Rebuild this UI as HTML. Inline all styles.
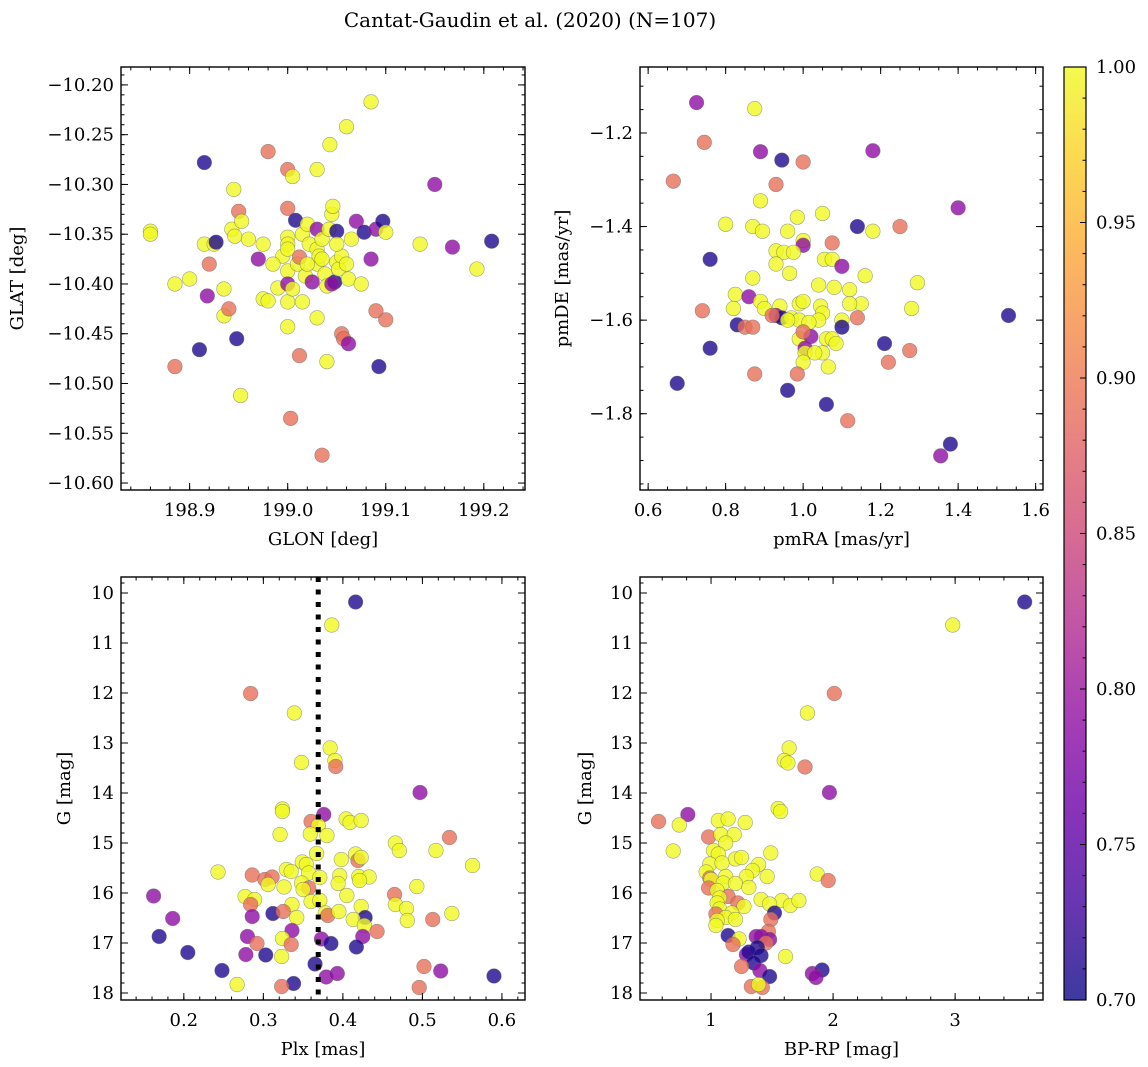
<!DOCTYPE html>
<html><head><meta charset="utf-8">
<style>
html,body{margin:0;padding:0;background:#fff;}
svg{display:block;font-family:"DejaVu Serif","Liberation Serif",serif;}
</style></head>
<body>
<svg id="fig" width="1148" height="1067" viewBox="0 0 1148 1067" xmlns="http://www.w3.org/2000/svg">
<defs>
<linearGradient id="plasma" x1="0" y1="1" x2="0" y2="0">
<stop offset="0" stop-color="#0d0887"/><stop offset="0.1" stop-color="#41049d"/><stop offset="0.2" stop-color="#6a00a8"/><stop offset="0.3" stop-color="#8f0da4"/><stop offset="0.4" stop-color="#b12a90"/><stop offset="0.5" stop-color="#cc4778"/><stop offset="0.6" stop-color="#e16462"/><stop offset="0.7" stop-color="#f2844b"/><stop offset="0.8" stop-color="#fca636"/><stop offset="0.9" stop-color="#fcce25"/><stop offset="1" stop-color="#f0f921"/>
</linearGradient>
</defs>
<text x="530" y="27" font-size="20" text-anchor="middle">Cantat-Gaudin et al. (2020) (N=107)</text>
</svg>
<script>
// ---- Panel 1: GLON vs GLAT ----
const p1GLON=[198.86,198.86,198.885,198.885,198.90,198.915,198.91,198.915,198.92,198.918,198.925,198.927,198.935,198.935,198.94,198.943,198.945,198.946,198.948,198.95,198.952,198.953,198.96,198.975,198.975,198.98,198.98,198.97,198.99,198.995,199.0,199.0,199.0,199.0,199.0,199.0,199.0,199.0,199.0,199.003,199.005,199.005,199.008,199.01,199.012,199.015,199.012,199.015,199.018,199.02,199.022,199.025,199.03,199.03,199.03,199.03,199.03,199.032,199.035,199.035,199.035,199.038,199.04,199.042,199.043,199.04,199.045,199.046,199.048,199.05,199.05,199.052,199.055,199.055,199.057,199.06,199.062,199.062,199.065,199.07,199.075,199.078,199.085,199.085,199.09,199.09,199.093,199.097,199.1,199.1,199.135,199.15,199.168,199.193,199.208,199.05,199.02,198.985,199.045,199.06];
const p1GLAT=[-10.347,-10.350,-10.400,-10.483,-10.395,-10.36,-10.466,-10.278,-10.38,-10.412,-10.36,-10.358,-10.432,-10.405,-10.425,-10.345,-10.305,-10.352,-10.455,-10.327,-10.512,-10.337,-10.355,-10.36,-10.415,-10.267,-10.417,-10.375,-10.404,-10.372,-10.285,-10.324,-10.353,-10.36,-10.365,-10.387,-10.418,-10.443,-10.40,-10.535,-10.292,-10.405,-10.336,-10.38,-10.373,-10.418,-10.472,-10.35,-10.392,-10.34,-10.36,-10.398,-10.285,-10.345,-10.365,-10.38,-10.434,-10.372,-10.375,-10.355,-10.572,-10.39,-10.402,-10.345,-10.26,-10.478,-10.33,-10.322,-10.398,-10.347,-10.378,-10.385,-10.372,-10.45,-10.455,-10.242,-10.395,-10.46,-10.355,-10.337,-10.4,-10.348,-10.217,-10.375,-10.345,-10.427,-10.483,-10.337,-10.348,-10.436,-10.36,-10.3,-10.363,-10.385,-10.357,-10.36,-10.38,-10.38,-10.4,-10.38];
const p1Prob=[1,1,1,.89,1,1,.71,.71,.89,.79,1,.71,1,1,.89,1,1,1,.71,.89,1,1,1,1,1,.89,1,.79,1,1,.89,.89,1,1,1,1,1,1,.79,.89,1,1,.71,1,.89,1,.89,1,1,1,1,.79,1,.79,1,1,1,1,1,1,.89,1,1,1,1,1,1,1,.71,.71,1,1,1,.89,.89,1,1,.79,1,.79,1,.71,1,.79,.79,.89,.71,.71,1,.89,1,.79,.79,1,.71,1,1,1,.79,1];
const p1XTicks=[198.9,199.0,199.1,199.2];
const p1YTicks=[-10.20,-10.25,-10.30,-10.35,-10.40,-10.45,-10.50,-10.55,-10.60];

// ---- Panel 2: pmRA vs pmDE ----
const p2PmRA=[0.725,0.875,0.745,0.89,0.945,1.0,1.18,0.665,0.93,0.89,1.05,0.985,0.80,0.87,0.895,1.18,1.14,1.25,1.40,1.0,1.0,1.075,0.93,0.95,0.975,1.055,1.075,0.93,1.1,0.965,1.16,0.87,1.04,1.08,1.295,1.12,0.825,0.86,0.89,0.94,1.15,0.9,1.045,0.82,0.99,1.0,1.12,1.28,0.93,0.945,0.97,0.92,1.05,0.99,1.04,1.10,1.14,0.96,1.015,0.83,0.85,0.87,1.1,0.99,1.02,1.06,1.075,1.085,1.0,1.21,1.005,1.275,1.005,1.05,1.03,1.0,1.22,1.065,0.875,0.985,0.96,1.06,1.115,1.38,1.355,1.53,0.74,0.76,0.76,0.675,0.96];
const p2PmDE=[-1.135,-1.148,-1.22,-1.24,-1.258,-1.262,-1.238,-1.303,-1.31,-1.345,-1.372,-1.38,-1.395,-1.40,-1.41,-1.41,-1.40,-1.40,-1.36,-1.43,-1.44,-1.435,-1.452,-1.455,-1.455,-1.47,-1.47,-1.48,-1.485,-1.50,-1.505,-1.51,-1.525,-1.53,-1.52,-1.535,-1.545,-1.55,-1.56,-1.57,-1.565,-1.575,-1.57,-1.575,-1.565,-1.56,-1.565,-1.575,-1.59,-1.595,-1.595,-1.59,-1.585,-1.6,-1.6,-1.6,-1.595,-1.60,-1.605,-1.61,-1.615,-1.615,-1.615,-1.64,-1.635,-1.64,-1.64,-1.65,-1.625,-1.65,-1.66,-1.665,-1.67,-1.67,-1.67,-1.69,-1.69,-1.70,-1.715,-1.715,-1.75,-1.78,-1.815,-1.865,-1.89,-1.59,-1.58,-1.47,-1.66,-1.735,-1.41];
const p2Prob=[.79,1,.89,.79,.71,.89,.79,.89,.89,1,1,1,1,1,1,1,.71,.89,.79,1,.79,.89,1,1,1,1,1,1,.79,1,1,1,1,1,1,1,1,.79,1,1,1,1,1,1,1,1,1,1,.79,.71,1,.89,1,1,1,1,.89,1,1,.71,.89,.89,.71,1,.79,1,1,1,.89,.71,.79,.89,1,1,1,1,.89,1,.89,.89,.71,.71,.89,.71,.79,.71,.89,.71,.71,.71,1];
const p2XTicks=[0.6,0.8,1.0,1.2,1.4,1.6];
const p2YTicks=[-1.2,-1.4,-1.6,-1.8];

// ---- Panel 3: Plx vs G ----
const p3Plx=[0.416,0.386,0.284,0.339,0.384,0.390,0.391,0.348,0.497,0.324,0.324,0.376,0.360,0.369,0.404,0.409,0.423,0.321,0.359,0.380,0.534,0.466,0.471,0.517,0.367,0.416,0.419,0.423,0.398,0.349,0.354,0.563,0.329,0.335,0.243,0.286,0.357,0.371,0.302,0.311,0.396,0.420,0.433,0.421,0.306,0.326,0.394,0.348,0.357,0.350,0.493,0.405,0.465,0.162,0.277,0.289,0.284,0.336,0.360,0.371,0.423,0.466,0.480,0.537,0.312,0.325,0.378,0.381,0.395,0.342,0.186,0.286,0.428,0.413,0.481,0.513,0.427,0.336,0.443,0.169,0.280,0.425,0.324,0.373,0.292,0.335,0.385,0.417,0.205,0.278,0.303,0.323,0.365,0.502,0.523,0.248,0.393,0.379,0.590,0.267,0.338,0.323,0.496];
const p3G=[10.18,10.64,12.01,12.40,13.10,13.35,13.47,13.39,13.99,14.32,14.37,14.43,14.57,14.65,14.52,14.59,14.55,14.83,14.82,14.85,14.89,15.0,15.15,15.15,15.21,15.22,15.35,15.29,15.33,15.38,15.43,15.45,15.53,15.57,15.58,15.64,15.60,15.69,15.73,15.68,15.65,15.67,15.68,15.75,15.83,15.88,15.81,15.80,15.90,15.93,15.87,16.05,16.03,16.06,16.07,16.13,16.23,16.23,16.17,16.15,16.27,16.23,16.31,16.41,16.41,16.37,16.40,16.45,16.37,16.49,16.51,16.47,16.49,16.53,16.55,16.53,16.65,16.75,16.77,16.87,16.87,16.87,16.91,16.92,17.01,17.03,17.01,17.08,17.19,17.23,17.24,17.27,17.42,17.47,17.56,17.55,17.61,17.68,17.66,17.83,17.81,17.87,17.89];
const p3Prob=[.71,1,.89,1,1,1,.89,1,.79,1,1,.79,.89,1,1,1,1,1,1,1,.89,1,1,1,1,1,.89,1,1,1,1,1,1,1,1,.89,1,1,.89,.89,1,1,1,1,1,1,1,1,.89,1,1,1,.89,.79,1,1,.89,1,1,1,1,1,1,1,.71,.89,1,.89,1,1,.79,.79,.71,1,1,.89,1,.79,.89,.71,.79,.79,1,.79,.89,.89,.71,.71,.71,.79,.71,1,.71,.89,.79,.71,.79,.79,.71,1,.71,.89,.89];
const p3XTicks=[0.2,0.3,0.4,0.5,0.6];
const gTicks=[10,11,12,13,14,15,16,17,18];
const plxMean=[0.369];

// ---- Panel 4: BP-RP vs G ----
const p4BPRP=[3.57,2.98,2.01,1.79,1.64,1.60,1.63,1.77,1.97,1.55,1.57,0.81,0.57,0.74,1.06,1.14,1.28,0.98,1.08,1.19,1.12,0.69,1.02,1.06,1.49,1.20,1.25,0.99,1.09,1.39,1.34,0.96,1.87,1.96,1.46,1.29,1.12,0.99,1.00,1.10,1.20,1.31,0.98,1.05,1.14,1.07,1.41,1.58,1.65,1.72,1.22,1.27,1.48,1.05,1.07,1.52,1.04,1.17,1.12,1.20,1.05,1.49,1.04,1.47,1.14,1.37,1.41,1.48,1.23,1.45,1.18,1.38,1.29,1.31,1.41,1.61,1.35,1.25,1.40,1.91,1.83,1.86,1.48,1.33,1.42,1.39];
const p4G=[10.18,10.64,12.01,12.40,13.10,13.35,13.40,13.48,13.99,14.31,14.37,14.43,14.57,14.64,14.55,14.52,14.59,14.88,14.83,14.83,15.0,15.16,15.15,15.22,15.2,15.32,15.29,15.42,15.40,15.43,15.55,15.58,15.62,15.75,15.67,15.67,15.67,15.70,15.73,15.80,15.81,15.89,15.90,15.95,16.07,16.10,16.13,16.15,16.25,16.15,16.20,16.27,16.22,16.20,16.32,16.40,16.42,16.40,16.49,16.53,16.55,16.53,16.65,16.77,16.85,16.87,16.87,16.93,16.92,17.0,17.03,17.09,17.23,17.18,17.25,17.27,17.40,17.47,17.55,17.54,17.61,17.69,17.67,17.87,17.89,17.83];
const p4Prob=[.71,1,.89,1,1,1,1,.89,.79,1,1,.79,.89,1,1,1,1,.89,1,1,1,1,1,1,1,1,1,1,1,1,1,1,1,.89,1,1,1,.89,1,1,1,1,.89,1,.89,1,1,1,1,1,.89,1,1,1,1,.71,.89,1,1,1,1,.89,1,.89,.71,.79,.79,.79,1,.89,.89,.71,.79,.71,.71,1,.71,.89,.79,.71,.79,.79,.71,.89,.89,1];
const p4XTicks=[1,2,3];

// ---- Colorbar ----
const cbTicks=[0.70,0.75,0.80,0.85,0.90,0.95,1.00];
const cbMin=0.70, cbMax=1.00;

const NS='http://www.w3.org/2000/svg';
const svg=document.getElementById('fig');
function mk(tag,attrs,parent){const e=document.createElementNS(NS,tag);for(const k in attrs)e.setAttribute(k,attrs[k]);(parent||svg).appendChild(e);return e;}

const stops=['#0d0887','#41049d','#6a00a8','#8f0da4','#b12a90','#cc4778','#e16462','#f2844b','#fca636','#fcce25','#f0f921'];
function hex(h){return[parseInt(h.substr(1,2),16),parseInt(h.substr(3,2),16),parseInt(h.substr(5,2),16)];}
function plasma(v){let t=(v-cbMin)/(cbMax-cbMin);t=Math.max(0,Math.min(1,t));const f=t*10,i=Math.min(9,Math.floor(f)),r=f-i;const a=hex(stops[i]),b=hex(stops[i+1]);return 'rgb('+a.map((x,k)=>Math.round(x+(b[k]-x)*r)).join(',')+')';}

function fmt(v,d){return (v<0?'\u2212':'')+Math.abs(v).toFixed(d);}

function panel(o){
  const g=mk('g',{});
  
  
  const sx=v=>o.x0+(v-o.xmin)/(o.xmax-o.xmin)*(o.x1-o.x0);
  const sy=o.invert?(v=>o.y0+(v-o.ymin)/(o.ymax-o.ymin)*(o.y1-o.y0)):(v=>o.y1-(v-o.ymin)/(o.ymax-o.ymin)*(o.y1-o.y0));
  const pg=mk('g',{},g);
  
  
  for(let i=0;i<o.xs.length;i++){
    const c=mk('circle',{cx:sx(o.xs[i]),cy:sy(o.ys[i]),r:7.3,fill:plasma(o.cs[i]),'fill-opacity':0.8,stroke:'#666','stroke-opacity':0.6,'stroke-width':0.6},pg);
    
    
  }
  if(o.vline){for(const v of o.vline){const l=mk('line',{x1:sx(v),x2:sx(v),y1:o.y0,y2:o.y1,stroke:'#000','stroke-width':5,'stroke-dasharray':'5,7.5'},g);
    
    }}
  const tg=mk('g',{stroke:'#000','stroke-width':1},g);
  function xtick(v,len){const x=sx(v);if(x<o.x0-0.5||x>o.x1+0.5)return;mk('line',{x1:x,x2:x,y1:o.y1,y2:o.y1-len},tg);mk('line',{x1:x,x2:x,y1:o.y0,y2:o.y0+len},tg);}
  function ytick(v,len){const y=sy(v);if(y<o.y0-0.5||y>o.y1+0.5)return;mk('line',{x1:o.x0,x2:o.x0+len,y1:y,y2:y},tg);mk('line',{x1:o.x1,x2:o.x1-len,y1:y,y2:y},tg);}
  for(let v=Math.ceil(o.xmin/o.xminor)*o.xminor;v<=o.xmax;v+=o.xminor)xtick(v,3.5);
  for(let v=Math.ceil(o.ymin/o.yminor)*o.yminor;v<=o.ymax;v+=o.yminor)ytick(v,3.5);
  for(const v of o.xticks){xtick(v,7);const t=mk('text',{x:sx(v),y:o.y1+26,'font-size':18,'text-anchor':'middle'},g);t.textContent=fmt(v,o.xd);
    }
  for(const v of o.yticks){ytick(v,7);const t=mk('text',{x:o.x0-7,y:sy(v)+6,'font-size':18,'text-anchor':'end'},g);t.textContent=fmt(v,o.yd);
    }
  const fr=mk('rect',{x:o.x0,y:o.y0,width:o.x1-o.x0,height:o.y1-o.y0,fill:'none',stroke:'#000','stroke-width':1.4},g);
  
  const xl=mk('text',{x:(o.x0+o.x1)/2,y:o.y1+55,'font-size':18,'text-anchor':'middle'},g);xl.textContent=o.xlabel;
  
  const yl=mk('text',{x:o.ylx,y:(o.y0+o.y1)/2,'font-size':18,'text-anchor':'middle',transform:'rotate(-90 '+o.ylx+' '+((o.y0+o.y1)/2)+')'},g);yl.textContent=o.ylabel;
  
}

panel({name:'glon-glat-panel',x0:121,x1:525,y0:67,y1:490,xmin:198.83,xmax:199.242,ymin:-10.607,ymax:-10.182,xs:p1GLON,ys:p1GLAT,cs:p1Prob,xticks:p1XTicks,yticks:p1YTicks,xminor:0.02,yminor:0.01,xd:1,yd:2,xlabel:'GLON [deg]',ylabel:'GLAT [deg]',ylx:23});
panel({name:'pm-panel',x0:640,x1:1043,y0:67,y1:490,xmin:0.579,xmax:1.619,ymin:-1.963,ymax:-1.059,xs:p2PmRA,ys:p2PmDE,cs:p2Prob,xticks:p2XTicks,yticks:p2YTicks,xminor:0.05,yminor:0.05,xd:1,yd:1,xlabel:'pmRA [mas/yr]',ylabel:'pmDE [mas/yr]',ylx:568});
panel({name:'plx-g-panel',x0:121,x1:525,y0:577,y1:1000,xmin:0.121,xmax:0.629,ymin:9.68,ymax:18.14,invert:true,xs:p3Plx,ys:p3G,cs:p3Prob,xticks:p3XTicks,yticks:gTicks,xminor:0.02,yminor:0.2,xd:1,yd:0,xlabel:'Plx [mas]',ylabel:'G [mag]',ylx:70,vline:plxMean});
panel({name:'cmd-panel',x0:640,x1:1043,y0:577,y1:1000,xmin:0.418,xmax:3.72,ymin:9.68,ymax:18.14,invert:true,xs:p4BPRP,ys:p4G,cs:p4Prob,xticks:p4XTicks,yticks:gTicks,xminor:0.2,yminor:0.2,xd:0,yd:0,xlabel:'BP-RP [mag]',ylabel:'G [mag]',ylx:591});

const cb=mk('g',{});


const cbx0=1064,cbx1=1086,cby0=67,cby1=1000;
const cby=v=>cby1-(v-cbMin)/(cbMax-cbMin)*(cby1-cby0);
mk('rect',{x:cbx0,y:cby0,width:cbx1-cbx0,height:cby1-cby0,fill:'url(#plasma)','fill-opacity':0.8},cb);
mk('rect',{x:cbx0,y:cby0,width:cbx1-cbx0,height:cby1-cby0,fill:'none',stroke:'#000','stroke-width':1.2},cb);
for(let k=0;k<=30;k++){const v=cbMin+k*0.01;const y=cby(v);mk('line',{x1:cbx1,x2:cbx1-(k%5===0?6:3.5),y1:y,y2:y,stroke:'#000','stroke-width':1},cb);}
for(const v of cbTicks){const t=mk('text',{x:cbx1+10,y:cby(v)+6,'font-size':18},cb);t.textContent=v.toFixed(2);
  }
</script>
</body></html>
